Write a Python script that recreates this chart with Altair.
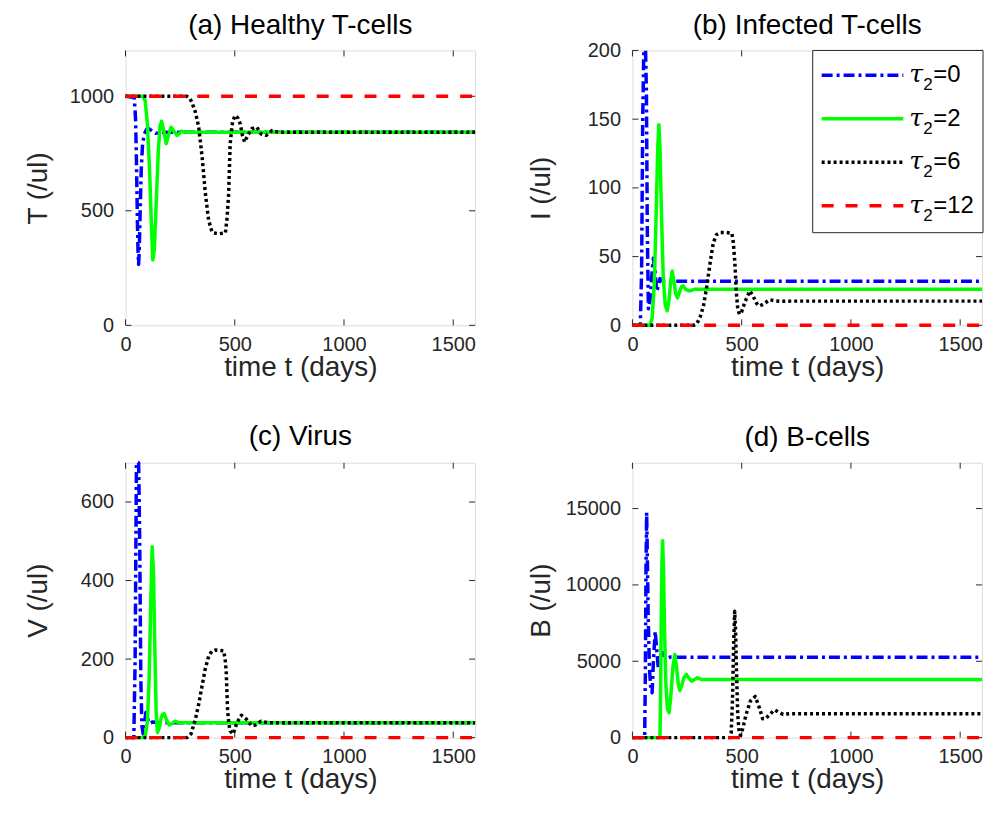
import altair as alt
import pandas as pd

# ---------------- data ----------------
tau_values = ["0", "2", "6", "12"]
series_names = ["τ₂=" + v for v in tau_values]
series_colors = ["#0000FF", "#00FF00", "#000000", "#FF0000"]
series_dashes = [[11, 4, 3, 4], [1, 0], [3, 3], [12, 12]]

x_ticks = [0, 500, 1000, 1500]

# (a) Healthy T-cells
T_tau0_t = [0, 40, 46, 50, 54, 57, 60, 63, 67, 72, 78, 86, 96, 108, 122, 138, 160, 200, 1600]
T_tau0_v = [1000, 995, 900, 720, 480, 330, 266, 330, 500, 680, 790, 835, 855, 858, 848, 838, 842, 843, 843]
T_tau2_t = [0, 80, 90, 100, 110, 118, 125, 132, 140, 150, 158, 165, 175, 186, 197, 208, 220, 236, 247, 256, 270, 300, 1600]
T_tau2_v = [1000, 1000, 980, 880, 680, 450, 285, 330, 520, 760, 870, 891, 850, 793, 830, 865, 850, 829, 838, 848, 842, 843, 843]
T_tau6_t = [0, 280, 295, 305, 320, 335, 350, 365, 380, 395, 403, 430, 457, 465, 472, 479, 490, 502, 514, 525, 535, 545, 560, 578, 601, 620, 644, 670, 700, 1600]
T_tau6_v = [1000, 1000, 990, 970, 930, 865, 740, 580, 461, 410, 403, 400, 403, 470, 576, 793, 890, 916, 905, 880, 830, 800, 830, 858, 865, 836, 829, 850, 843, 843]
T_tau12_t = [0, 1600]
T_tau12_v = [1000, 1000]
T_ticks = [0, 500, 1000]

# (b) Infected T-cells
I_tau0_t = [0, 36, 42, 47, 52, 56, 60, 64, 68, 73, 80, 88, 96, 103, 111, 118, 126, 140, 160, 1600]
I_tau0_v = [0, 0, 40, 150, 280, 340, 290, 170, 70, 12, 18, 35, 49, 40, 25, 28, 34, 32, 32, 32]
I_tau2_t = [0, 80, 90, 100, 110, 116, 121, 126, 133, 141, 150, 159, 167, 175, 182, 190, 198, 206, 215, 224, 232, 245, 262, 285, 1600]
I_tau2_v = [0, 0, 5, 30, 90, 130, 146, 130, 80, 35, 15, 10.6, 18, 32, 39.6, 32, 23, 20, 24, 28, 28.7, 26, 25, 26.3, 26.3]
I_tau6_t = [0, 280, 294, 310, 325, 340, 355, 370, 385, 400, 430, 455, 462, 469, 475, 482, 490, 500, 515, 537, 550, 568, 583, 605, 628, 655, 681, 720, 1600]
I_tau6_v = [0, 0, 1, 6, 14, 28, 45, 60, 66, 67.5, 67.5, 67, 60, 45, 25, 12, 8, 10, 17, 25, 22, 16, 14, 16, 18.6, 17.8, 17.4, 17.6, 17.6]
I_tau12_t = [0, 1600]
I_tau12_v = [0, 0]
I_ticks = [0, 50, 100, 150, 200]

# (c) Virus
V_tau0_t = [0, 38, 44, 50, 55, 60, 65, 70, 75, 81, 87, 93, 100, 110, 125, 150, 1600]
V_tau0_v = [0, 0, 200, 700, 1000, 900, 500, 150, 30, 9, 35, 64, 50, 36, 40, 38, 38]
V_tau2_t = [0, 78, 90, 100, 108, 115, 122, 128, 134, 140, 146, 155, 163, 170, 177, 188, 200, 213, 227, 245, 1600]
V_tau2_v = [0, 0, 5, 40, 150, 330, 486, 420, 230, 70, 13, 25, 50, 60, 61, 45, 32, 36, 42, 38, 38]
V_tau6_t = [0, 282, 300, 320, 335, 350, 365, 381, 395, 411, 430, 449, 456, 461, 467, 473, 479, 492, 510, 530, 553, 578, 594, 609, 620, 632, 660, 1600]
V_tau6_v = [0, 0, 10, 47, 85, 131, 175, 208, 220, 223, 222, 221, 200, 166, 72, 35, 17, 9, 38, 57, 47, 30, 32, 38, 42, 40, 38, 38]
V_tau12_t = [0, 1600]
V_tau12_v = [0, 0]
V_ticks = [0, 200, 400, 600]

# (d) B-cells
B_tau0_t = [0, 56, 59, 62, 65, 68, 72, 78, 84, 90, 96, 104, 111, 118, 126, 134, 142, 150, 160, 175, 200, 1600]
B_tau0_v = [0, 0, 4000, 11000, 14730, 12000, 8000, 4500, 3200, 2940, 5000, 6960, 5800, 4600, 4900, 5600, 5500, 5300, 5200, 5280, 5270, 5270]
B_tau2_t = [0, 126, 129, 132, 135, 138, 142, 147, 153, 160, 168, 176, 185, 194, 202, 210, 217, 225, 235, 247, 258, 270, 283, 297, 315, 1600]
B_tau2_v = [0, 0, 3000, 8000, 11500, 12900, 11000, 7000, 3500, 1900, 1630, 2800, 4600, 5440, 4600, 3500, 3090, 3400, 3900, 4140, 3900, 3700, 3800, 3920, 3810, 3810]
B_tau6_t = [0, 445, 452, 458, 463, 468, 472, 477, 482, 488, 494, 505, 520, 540, 562, 580, 596, 610, 630, 651, 670, 690, 720, 1600]
B_tau6_v = [0, 0, 300, 2500, 6000, 8270, 7000, 4000, 1500, 400, 150, 600, 1500, 2400, 2700, 2000, 1240, 1250, 1550, 1810, 1650, 1520, 1570, 1570]
B_tau12_t = [0, 1600]
B_tau12_v = [0, 0]
B_ticks = [0, 5000, 10000, 15000]

# ---------------- styling ----------------
FONT = "Liberation Sans"
TXT = "#262626"
W, H = 351, 276
TICK = 6
LABEL_FS = 20
TITLE_FS = 28
LW = 3.5

color_scale = alt.Scale(domain=series_names, range=series_colors)
dash_scale = alt.Scale(domain=series_names, range=series_dashes)


def make_legend():
    leg_df = pd.DataFrame({"s": series_names, "tau": tau_values})
    ypos = alt.Y("s:N", scale=alt.Scale(type="point", domain=series_names, range=[25, 156], padding=0),
                 axis=None)
    box = alt.Chart(leg_df).transform_aggregate(n="count()").mark_rect(
        fill="white", stroke=TXT, strokeWidth=1
    ).encode(x=alt.value(W - 170), x2=alt.value(W + 1), y=alt.value(0), y2=alt.value(183))
    samples = alt.Chart(leg_df).mark_rule(strokeWidth=LW, strokeCap="butt").encode(
        y=ypos, x=alt.value(W - 161), x2=alt.value(W - 79),
        color=alt.Color("s:N", scale=color_scale, legend=None),
        strokeDash=alt.StrokeDash("s:N", scale=dash_scale, legend=None),
    )
    tau = alt.Chart(leg_df).transform_calculate(lab="'τ'").mark_text(
        font="DejaVu Serif", fontStyle="italic", fontSize=25, align="left", baseline="middle",
        color="#000000", dy=-1
    ).encode(y=ypos, x=alt.value(W - 73), text="lab:N")
    sub = alt.Chart(leg_df).transform_calculate(lab="'2'").mark_text(
        font=FONT, fontSize=17, align="left", baseline="middle", color="#000000", dy=10
    ).encode(y=ypos, x=alt.value(W - 59), text="lab:N")
    eq = alt.Chart(leg_df).transform_calculate(lab="'=' + datum.tau").mark_text(
        font=FONT, fontSize=24, align="left", baseline="middle", color="#000000", dy=0
    ).encode(y=ypos, x=alt.value(W - 49), text="lab:N")
    return alt.layer(box, samples, tau, sub, eq)


def make_panel(title, ytitle, ymax, yticks, curves, show_legend, title_x, title_offset):
    rows = []
    for name, (ts, vs) in zip(series_names, curves):
        for t, v in zip(ts, vs):
            rows.append({"t": t, "v": v, "s": name})
    df = pd.DataFrame(rows)

    xs = alt.Scale(domain=[0, 1600], nice=False, zero=False)
    ys = alt.Scale(domain=[0, ymax], nice=False, clamp=True)

    xaxis = alt.Axis(values=x_ticks, title="time t (days)", ticks=False, tickSize=0, domain=False,
                     grid=False, format="d", labelFontSize=LABEL_FS, labelFont=FONT, labelColor=TXT,
                     labelPadding=9, titleFontSize=TITLE_FS, titleFont=FONT, titleColor=TXT,
                     titleFontWeight="normal", titleBaseline="middle", titleY=42, labelFlush=False)
    yaxis = alt.Axis(values=yticks, title=ytitle, ticks=False, tickSize=0, domain=False,
                     grid=False, format="d", labelFontSize=LABEL_FS, labelFont=FONT, labelColor=TXT,
                     labelPadding=12, titleFontSize=TITLE_FS, titleFont=FONT, titleColor=TXT,
                     titleFontWeight="normal", titleBaseline="middle", titleX=title_x, labelFlush=False)

    lines = alt.Chart(df).mark_line(strokeWidth=LW, strokeCap="butt", strokeJoin="round").encode(
        x=alt.X("t:Q", scale=xs, axis=xaxis),
        y=alt.Y("v:Q", scale=ys, axis=yaxis),
        color=alt.Color("s:N", scale=color_scale, legend=None),
        strokeDash=alt.StrokeDash("s:N", scale=dash_scale, legend=None),
    )

    xt = pd.DataFrame({"t": x_ticks})
    yt = pd.DataFrame({"v": yticks})
    rule = dict(color=TXT, strokeWidth=1)
    bx = alt.Chart(xt).mark_rule(**rule).encode(x="t:Q", y=alt.value(H), y2=alt.value(H - TICK))
    tx = alt.Chart(xt).mark_rule(**rule).encode(x="t:Q", y=alt.value(0), y2=alt.value(TICK))
    ly = alt.Chart(yt).mark_rule(**rule).encode(y="v:Q", x=alt.value(0), x2=alt.value(TICK))
    ry = alt.Chart(yt).mark_rule(**rule).encode(y="v:Q", x=alt.value(W), x2=alt.value(W - TICK))

    base = alt.layer(bx, tx, ly, ry, lines)
    if show_legend:
        base = alt.layer(base, make_legend()).resolve_scale(y="independent")

    return base.properties(
        width=W, height=H,
        title=alt.Title(title, fontSize=TITLE_FS, font=FONT, fontWeight="normal", color="#000000",
                        anchor="middle", offset=title_offset, frame="group"),
    )


pa = make_panel("(a) Healthy T-cells", "T (/ul)", 1200, T_ticks,
                [(T_tau0_t, T_tau0_v), (T_tau2_t, T_tau2_v), (T_tau6_t, T_tau6_v), (T_tau12_t, T_tau12_v)],
                False, -87, 10)
pb = make_panel("(b) Infected T-cells", "I (/ul)", 200, I_ticks,
                [(I_tau0_t, I_tau0_v), (I_tau2_t, I_tau2_v), (I_tau6_t, I_tau6_v), (I_tau12_t, I_tau12_v)],
                True, -91, 1)
pc = make_panel("(c) Virus", "V (/ul)", 700, V_ticks,
                [(V_tau0_t, V_tau0_v), (V_tau2_t, V_tau2_v), (V_tau6_t, V_tau6_v), (V_tau12_t, V_tau12_v)],
                False, -87, 10)
pd_ = make_panel("(d) B-cells", "B (/ul)", 18000, B_ticks,
                 [(B_tau0_t, B_tau0_v), (B_tau2_t, B_tau2_v), (B_tau6_t, B_tau6_v), (B_tau12_t, B_tau12_v)],
                 False, -91, 10)

chart = alt.concat(pa, pb, pc, pd_, columns=2, spacing={"row": 40, "column": 49}).properties(
    padding={"left": 16, "top": 1, "right": 0, "bottom": 0}
).configure_view(stroke=TXT, strokeWidth=1).configure(background="white")

chart.save("out.html", embed_options={"renderer": "svg", "actions": False})
